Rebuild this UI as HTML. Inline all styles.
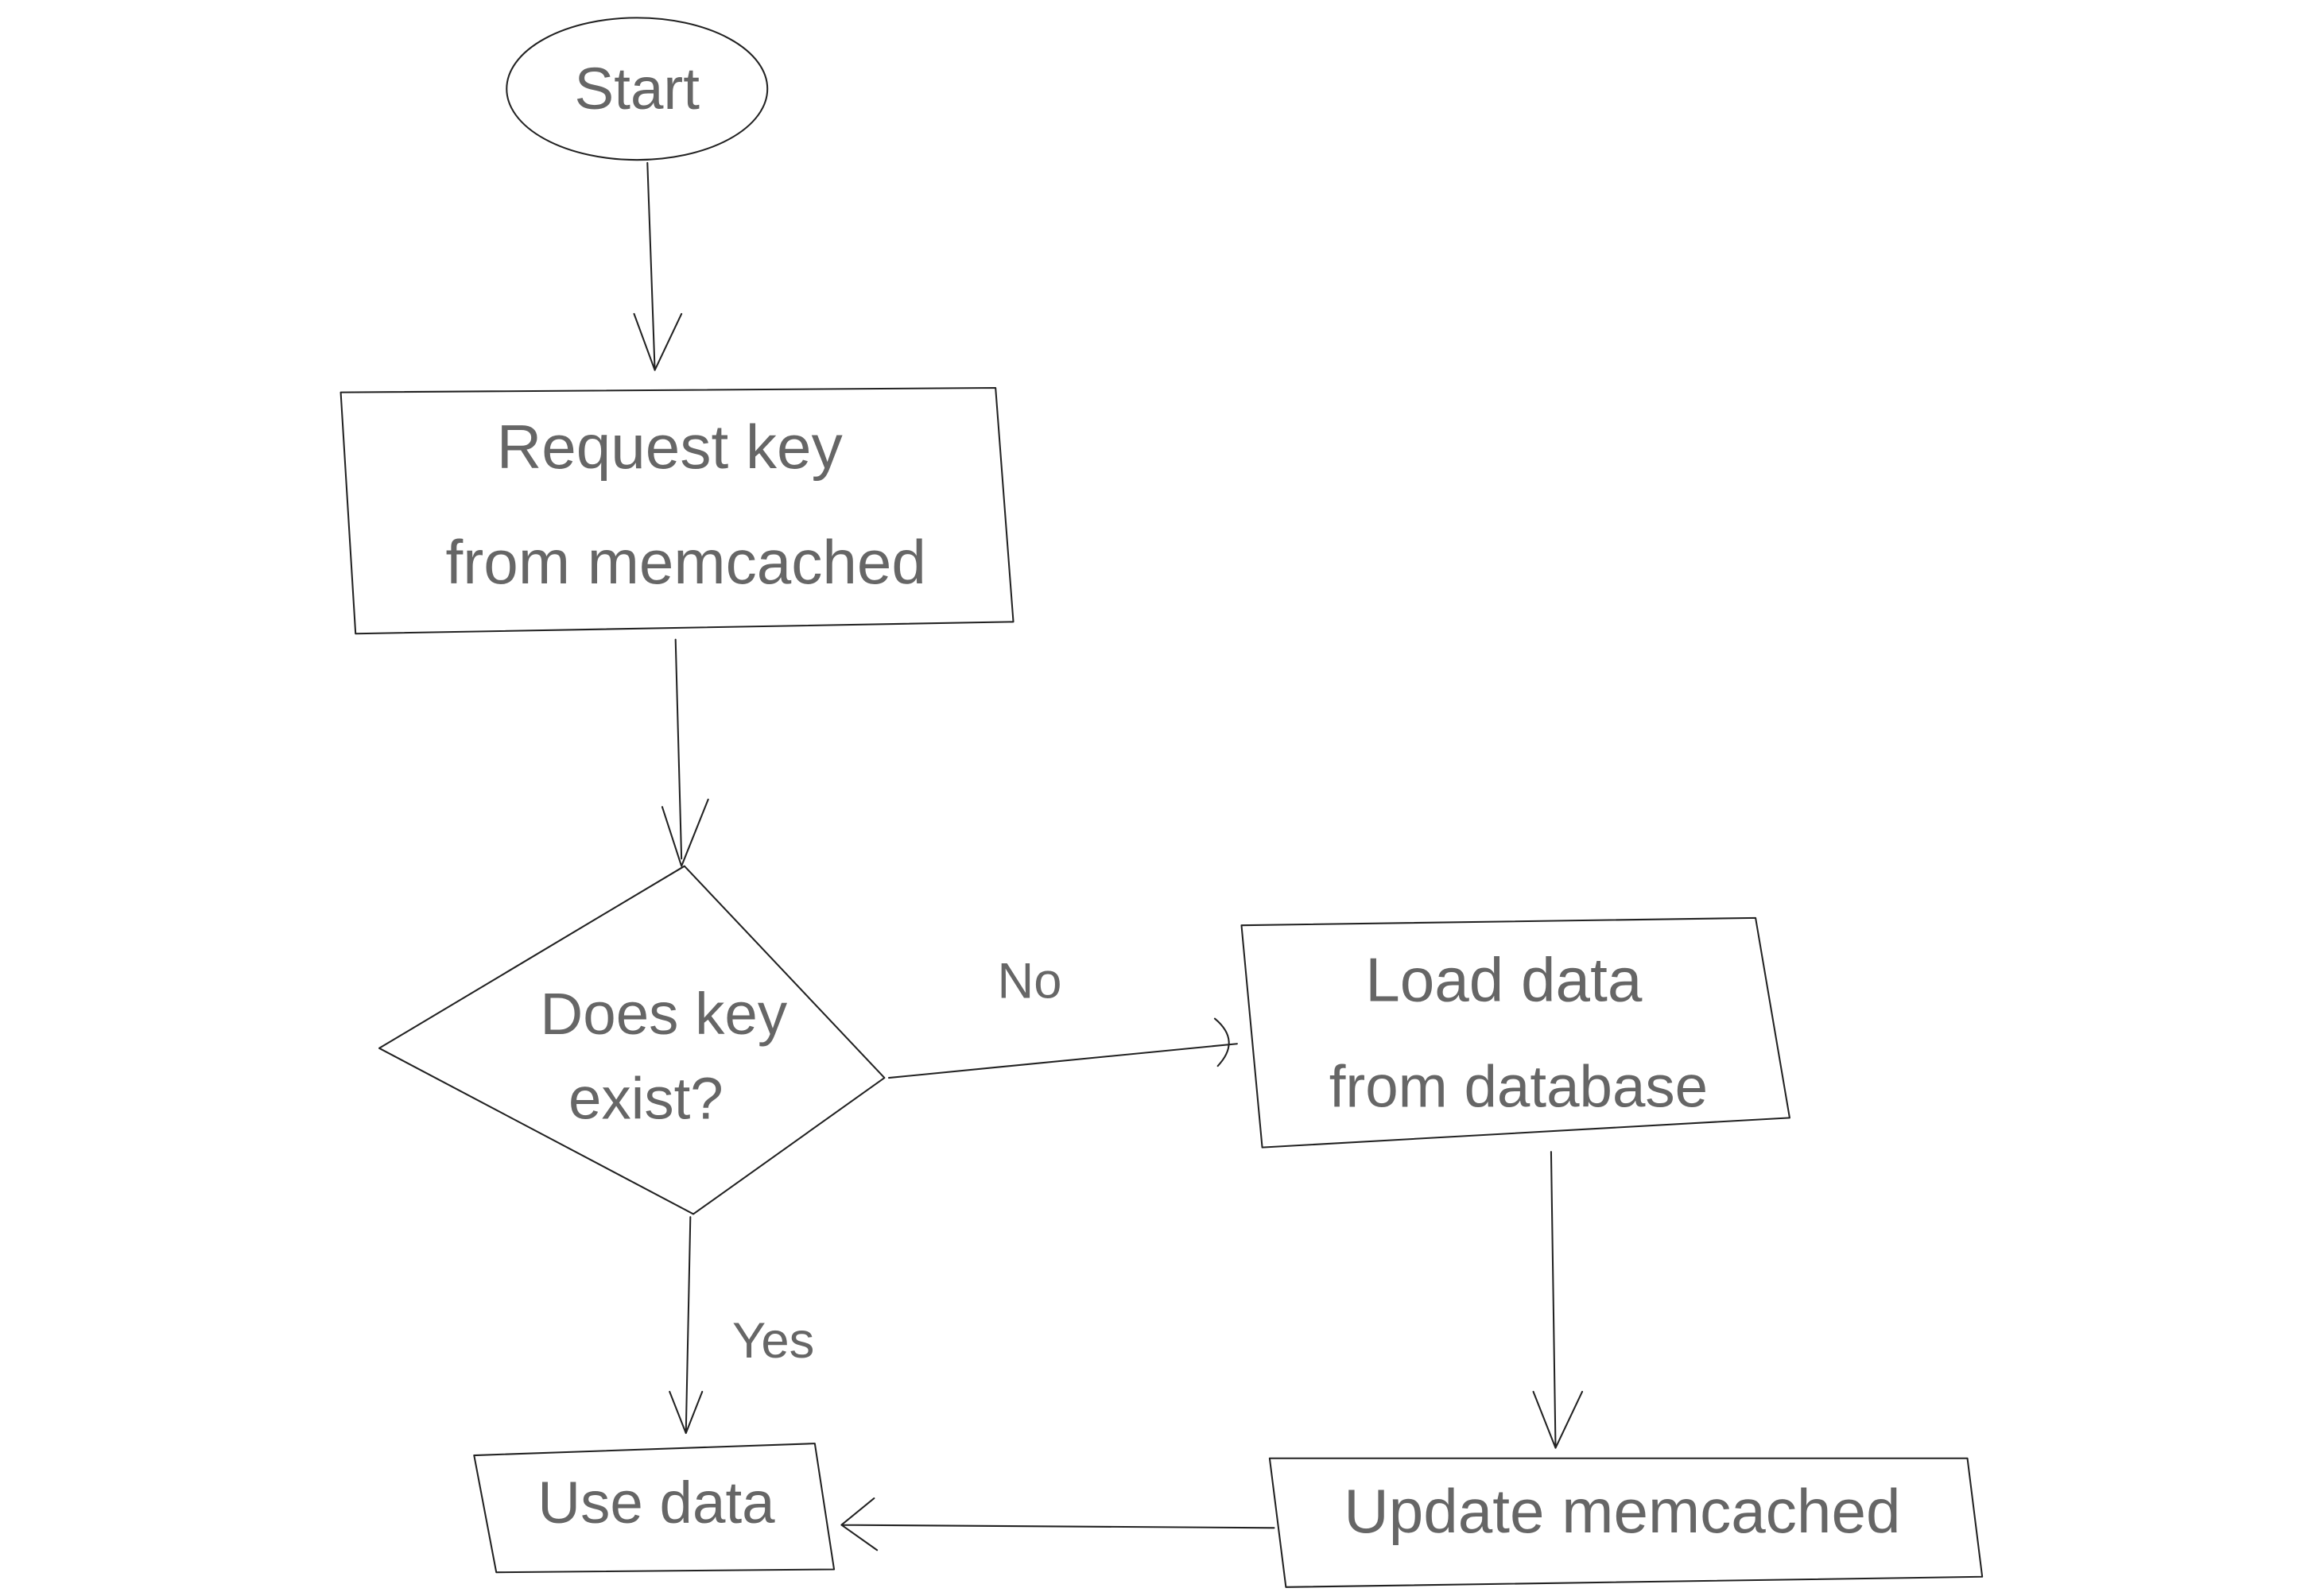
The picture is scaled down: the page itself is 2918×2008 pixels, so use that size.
<!DOCTYPE html>
<html><head><meta charset="utf-8"><style>html,body{margin:0;padding:0;background:#fff;width:2918px;height:2008px;overflow:hidden}</style></head>
<body>
<svg width="2918" height="2008" viewBox="0 0 1566 1078" preserveAspectRatio="none" xmlns="http://www.w3.org/2000/svg">
<g fill="none" stroke="#222" stroke-width="1.1" stroke-linejoin="round" stroke-linecap="round">
<ellipse cx="430" cy="60" rx="88" ry="48"/>
<path d="M437 110 L442 250 M428 212 L442 250 L460 212"/>
<path d="M230 265 L672 262 L684 420 L240 428 Z"/>
<path d="M456 432 L460 580 M447 545 L460 585 L478 540"/>
<path d="M462 585 L597 728 L468 820 L256 708 Z"/>
<path d="M600 728 L835 705 M820 688 Q838 703 822 720"/>
<path d="M838 625 L1185 620 L1208 755 L852 775 Z"/>
<path d="M1047 778 L1050 978 M1035 940 L1050 978 L1068 940"/>
<path d="M857 985 L1328 985 L1338 1065 L868 1072 Z"/>
<path d="M860 1032 L568 1030 M590 1012 L568 1030 L592 1047"/>
<path d="M320 983 L550 975 L563 1060 L335 1062 Z"/>
<path d="M466 822 L463 968 M452 940 L463 968 L474 940"/>
</g>
<g font-family="Liberation Sans, sans-serif" fill="#666" text-anchor="middle" dominant-baseline="middle" font-weight="normal">
<text x="452" y="305" font-size="42">Request key</text>
<text x="463" y="383" font-size="42">from memcached</text>
<text x="448" y="688" font-size="40">Does key</text>
<text x="436" y="745" font-size="40">exist?</text>
<text x="430" y="63" font-size="40">Start</text>
<text x="695" y="665" font-size="34">No</text>
<text x="1015" y="665" font-size="42">Load data</text>
<text x="1025" y="737" font-size="40">from database</text>
<text x="1095" y="1024" font-size="42">Update memcached</text>
<text x="443" y="1018" font-size="40">Use data</text>
<text x="522" y="908" font-size="34">Yes</text>
</g>
</svg>
</body></html>
